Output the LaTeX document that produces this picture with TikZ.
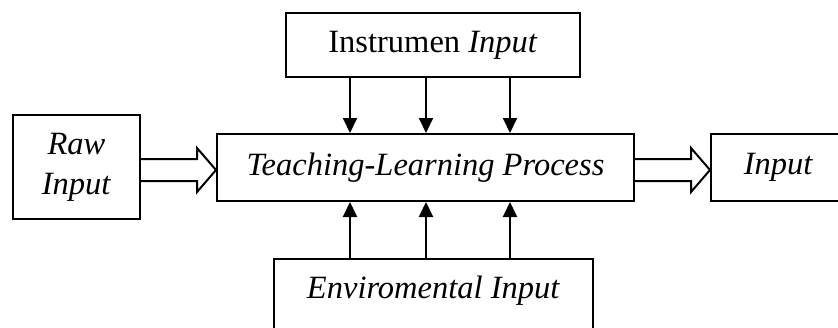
\documentclass[tikz,border=0pt]{standalone}
\usepackage{fontspec}
\setmainfont{Liberation Serif}
\usetikzlibrary{arrows.meta,calc}
\begin{document}
\begin{tikzpicture}[x=1pt,y=-1pt,
  box/.style={draw,line width=2pt,inner sep=0pt,align=center,font=\fontsize{32.5}{40}\selectfont},
  arr/.style={line width=2pt,-{Triangle[width=14pt,length=15pt]}},
  hollow/.style={line width=2pt,line join=miter}]
\clip (0,0) rectangle (838,327);
\node[box,minimum width=294pt,minimum height=64pt] (instr) at (433,45) {Instrumen \textit{Input}};
\node[box,minimum width=127pt,minimum height=104pt] (raw) at (76.5,167) {\textit{Raw}\\\textit{Input}};
\node[box,minimum width=417pt,minimum height=67pt] (main) at (425.5,167.5) {\textit{Teaching-Learning Process}};
\node[box,minimum width=135pt,minimum height=67pt] (out) at (778.5,167.5) {\textit{Input}};
\node[box,minimum width=319pt,text height=39pt,text depth=70pt,anchor=north] (env) at (433.5,258) {\textit{Enviromental Input}};
\coordinate (xa) at (350,0);
\coordinate (xb) at (426,0);
\coordinate (xc) at (510,0);
\foreach \c in {xa,xb,xc}{
  \draw[arr] (\c |- instr.south) -- (\c |- main.north);
  \draw[arr] (\c |- env.north) -- (\c |- main.south);
}
\coordinate (lt) at ($(main.west)+(0,2.5)$);
\draw[hollow] ($(lt -| raw.east)+(0,-11)$) -- ($(lt)+(-19,-11)$) -- ($(lt)+(-19,-22)$) -- (lt) -- ($(lt)+(-19,22)$) -- ($(lt)+(-19,11)$) -- ($(lt -| raw.east)+(0,11)$);
\coordinate (rt) at ($(out.west)+(0,2.5)$);
\draw[hollow] ($(rt -| main.east)+(0,-11)$) -- ($(rt)+(-19,-11)$) -- ($(rt)+(-19,-22)$) -- (rt) -- ($(rt)+(-19,22)$) -- ($(rt)+(-19,11)$) -- ($(rt -| main.east)+(0,11)$);
\end{tikzpicture}
\end{document}
